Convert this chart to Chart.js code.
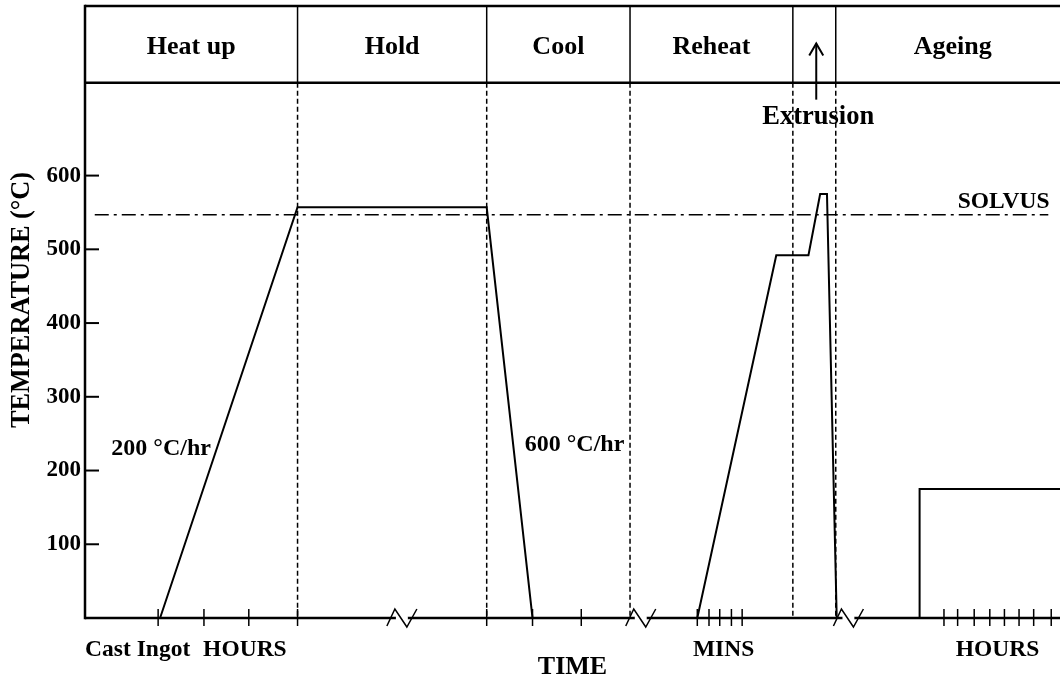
<!DOCTYPE html>
<html>
<head>
<meta charset="utf-8">
<title>Heat treatment schedule</title>
<script src="https://cdn.jsdelivr.net/npm/chart.js@4.4.1/dist/chart.umd.min.js"></script>
<style>
    html, body { margin: 0; padding: 0; background: #fff; }
    #wrap { width: 1060px; height: 679px; position: relative; }
</style>
</head>
<body>
<div id="wrap"><canvas id="schedule"></canvas></div>
<script>
// process stages along the top band (time in arbitrary units, 0..100)
const stageNames = ['Heat up', 'Hold', 'Cool', 'Reheat', '', 'Ageing'];
const stageEdges = [0, 21.8, 41.2, 55.9, 72.6, 77.0, 101];
const bandBottom = 726;

// temperature profile
const profileTime = [7.7, 21.8, 41.2, 45.9, 62.8, 70.9, 74.2, 75.4, 76.1, 77.1, 85.6, 85.6, 100];
const profileTemp = [0, 557, 557, 0, 0, 492, 492, 575, 575, 0, 0, 175, 175];

// solvus line
const solvusTemp = 547;
const solvusSpan = [1.0, 98.8];

// axis marks
const tempTicks = [100, 200, 300, 400, 500, 600];
const timeTicks = [7.5, 12.2, 16.8, 21.8, 41.2, 45.9, 50.9,
    62.8, 64.0, 65.1, 66.3, 67.4,
    88.1, 89.5, 91.2, 92.8, 94.3, 95.8, 97.3, 99.1];
const axisBreaks = [32.5, 57.0, 78.3];
const timeUnits = [['Cast Ingot', 5.4], ['HOURS', 16.4], ['MINS', 65.5], ['HOURS', 93.6]];

const serif = "'Liberation Serif', 'Times New Roman', serif";

function strokeLine(ctx, x1, y1, x2, y2, w, dash) {
    ctx.beginPath();
    ctx.lineWidth = w;
    ctx.setLineDash(dash || []);
    ctx.moveTo(x1, y1);
    ctx.lineTo(x2, y2);
    ctx.stroke();
}

function drawText(ctx, text, px, py, size, align) {
    ctx.font = 'bold ' + size + 'px ' + serif;
    ctx.textAlign = align || 'left';
    ctx.textBaseline = 'alphabetic';
    ctx.fillText(text, px, py);
}

const schedulePlugin = {
    id: 'schedule',
    beforeDatasetsDraw(chart) {
        const { ctx, chartArea: { top, bottom, left, right }, scales: { x, y } } = chart;
        const bandY = y.getPixelForValue(bandBottom);
        ctx.save();
        ctx.strokeStyle = '#000';

        // stage band
        strokeLine(ctx, left, top, right, top, 2.5);
        strokeLine(ctx, left, bandY, right, bandY, 2.5);
        stageEdges.slice(1, -1).forEach(t => {
            const px = x.getPixelForValue(t);
            strokeLine(ctx, px, top, px, bandY, 1.5);
            strokeLine(ctx, px, bandY, px, bottom, 1.5, [5, 3]);
        });

        // axes
        strokeLine(ctx, left, top - 1.2, left, bottom + 1.2, 2.5);
        strokeLine(ctx, left, bottom, right, bottom, 2.5);
        ctx.restore();
    },
    afterDatasetsDraw(chart) {
        const { ctx, chartArea: { top, bottom, left }, scales: { x, y } } = chart;
        const bandY = y.getPixelForValue(bandBottom);
        ctx.save();
        ctx.strokeStyle = '#000';
        ctx.fillStyle = '#000';

        // inward ticks on the temperature axis
        tempTicks.forEach(v => {
            const py = y.getPixelForValue(v);
            strokeLine(ctx, left, py, left + 14, py, 2);
        });

        // time ticks
        timeTicks.forEach(t => {
            const px = x.getPixelForValue(t);
            strokeLine(ctx, px, bottom - 9, px, bottom + 8, 1.5);
        });

        // axis breaks
        axisBreaks.forEach(t => {
            const px = x.getPixelForValue(t);
            ctx.fillStyle = '#fff';
            ctx.beginPath();
            ctx.ellipse(px, bottom, 6, 13, 0, 0, Math.PI * 2);
            ctx.fill();
            ctx.beginPath();
            ctx.lineWidth = 1.5;
            ctx.setLineDash([]);
            ctx.moveTo(px - 15, bottom + 8);
            ctx.lineTo(px - 7, bottom - 9);
            ctx.lineTo(px + 5, bottom + 9);
            ctx.lineTo(px + 15, bottom - 9);
            ctx.stroke();
        });
        ctx.fillStyle = '#000';

        // stage names
        stageNames.forEach((name, i) => {
            if (!name) return;
            const cx = (x.getPixelForValue(stageEdges[i]) + x.getPixelForValue(stageEdges[i + 1])) / 2;
            drawText(ctx, name, cx, (top + bandY) / 2 + 10, 26, 'center');
        });

        // extrusion arrow
        const ax = x.getPixelForValue(75.0);
        const tipY = y.getPixelForValue(779);
        strokeLine(ctx, ax, y.getPixelForValue(703), ax, tipY, 2);
        ctx.beginPath();
        ctx.moveTo(ax - 7, tipY + 12);
        ctx.lineTo(ax, tipY);
        ctx.lineTo(ax + 7, tipY + 12);
        ctx.stroke();
        drawText(ctx, 'Extrusion', x.getPixelForValue(75.2), y.getPixelForValue(670), 26.5, 'center');

        // rates and solvus
        drawText(ctx, '200 \u00B0C/hr', x.getPixelForValue(2.7), y.getPixelForValue(221), 24);
        drawText(ctx, '600 \u00B0C/hr', x.getPixelForValue(45.1), y.getPixelForValue(226), 24);
        drawText(ctx, 'SOLVUS', x.getPixelForValue(89.5), y.getPixelForValue(556), 23.5);

        // units under the time axis
        timeUnits.forEach(([name, t]) => {
            drawText(ctx, name, x.getPixelForValue(t), bottom + 38, 23.5, 'center');
        });

        // temperature axis title
        ctx.translate(22, (top + bottom) / 2 - 12);
        ctx.rotate(-Math.PI / 2);
        ctx.font = 'bold 26.3px ' + serif;
        ctx.textAlign = 'center';
        ctx.textBaseline = 'middle';
        ctx.fillText('TEMPERATURE (\u00B0C)', 0, 0);
        ctx.restore();
    }
};

new Chart(document.getElementById('schedule'), {
    type: 'line',
    data: {
        datasets: [{
            label: 'Temperature',
            data: profileTime.map((t, i) => ({ x: t, y: profileTemp[i] })),
            borderColor: '#000',
            borderWidth: 2,
            pointRadius: 0,
            tension: 0,
            fill: false,
            clip: false
        }, {
            label: 'Solvus',
            data: solvusSpan.map(t => ({ x: t, y: solvusTemp })),
            borderColor: '#000',
            borderWidth: 1.5,
            borderDash: [14, 5, 3, 5],
            pointRadius: 0,
            fill: false
        }]
    },
    options: {
        responsive: true,
        maintainAspectRatio: false,
        animation: false,
        events: [],
        layout: { padding: { top: 6, right: 0, bottom: 0, left: 0 } },
        plugins: {
            legend: { display: false },
            tooltip: { enabled: false }
        },
        scales: {
            x: {
                type: 'linear',
                min: 0,
                max: 100,
                ticks: { display: false },
                grid: { display: false, drawTicks: false },
                border: { display: false },
                title: {
                    display: true,
                    text: 'TIME',
                    color: '#000',
                    padding: 0,
                    font: { family: serif, size: 26, weight: 'bold', lineHeight: 0.9 }
                },
                afterFit(scale) { scale.height = 61; }
            },
            y: {
                min: 0,
                max: 830,
                afterBuildTicks(axis) { axis.ticks = tempTicks.map(v => ({ value: v })); },
                ticks: {
                    color: '#000',
                    padding: 4,
                    font: { family: serif, size: 23, weight: 'bold' }
                },
                grid: { display: false, drawTicks: false },
                border: { display: false },
                afterFit(scale) {
                    scale.width = 85;
                    scale.paddingTop = 0;
                    scale.paddingBottom = 0;
                }
            }
        }
    },
    plugins: [schedulePlugin]
});
</script>
</body>
</html>
